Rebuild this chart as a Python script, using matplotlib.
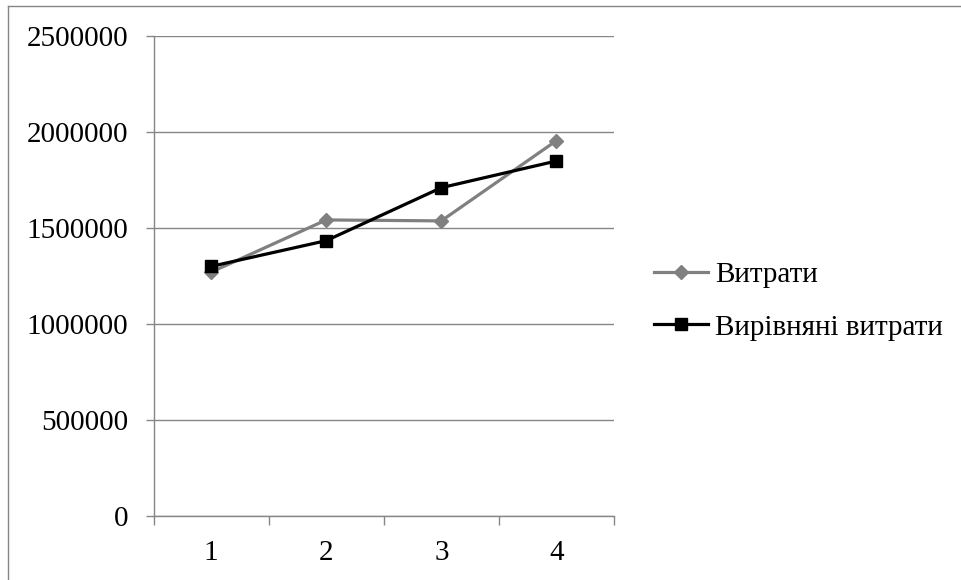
import numpy as np
import matplotlib
matplotlib.use("Agg")
import matplotlib.pyplot as plt
from matplotlib.lines import Line2D

# data
periods = [1, 2, 3, 4]
vytraty = [1270000, 1542000, 1537000, 1955000]
vyrivnyani = [1300000, 1434000, 1710000, 1849000]
yticks = [0, 500000, 1000000, 1500000, 2000000, 2500000]

plt.rcParams['font.family'] = ['Liberation Serif', 'DejaVu Serif']

W, H = 961, 580
fig = plt.figure(figsize=(W / 100, H / 100), dpi=100)
ax = fig.add_axes([153.5 / W, 1 - 516 / H, (614 - 153.5) / W, (516 - 36) / H])

grid_c = '#868686'
ax.set_xlim(0.5, 4.5)
ax.set_ylim(0, 2500000)
ax.set_yticks(yticks)
ax.set_yticklabels([str(v) for v in yticks])
ax.yaxis.grid(True, color=grid_c, linewidth=1)
ax.set_axisbelow(True)

# category axis: ticks between categories, labels centred
ax.set_xticks(np.arange(0.5, 4.6, 1.0))
ax.set_xticklabels([])
ax.set_xticks(periods, minor=True)
ax.set_xticklabels([str(p) for p in periods], minor=True)
ax.tick_params(axis='x', which='minor', length=0, labelsize=21, pad=17)
ax.tick_params(axis='x', which='major', length=6.5, color=grid_c, width=1)
ax.tick_params(axis='y', length=6, color=grid_c, width=1, labelsize=21, pad=12)

for s in ['top', 'right']:
    ax.spines[s].set_visible(False)
for s in ['left', 'bottom']:
    ax.spines[s].set_color(grid_c)
    ax.spines[s].set_linewidth(1)

ax.plot(periods, vytraty, color='#808080', linewidth=2.3, marker='D',
        markersize=7, markeredgecolor='#808080', label='Витрати')
ax.plot(periods, vyrivnyani, color='black', linewidth=2.3, marker='s',
        markersize=8.5, label='Вирівняні витрати')

fig.legend(loc='center left', bbox_to_anchor=(654 / W, 1 - 301 / H),
           frameon=False, fontsize=21, handlelength=1.86, handletextpad=0.24,
           labelspacing=0.9, borderpad=0, borderaxespad=0)

# outer chart border
fig.add_artist(Line2D([8 / W, 1], [1 - 6 / H, 1 - 6 / H], color=grid_c, linewidth=1))
fig.add_artist(Line2D([8 / W, 8 / W], [0, 1 - 6 / H], color=grid_c, linewidth=1))

fig.savefig('out.png', dpi=100)
